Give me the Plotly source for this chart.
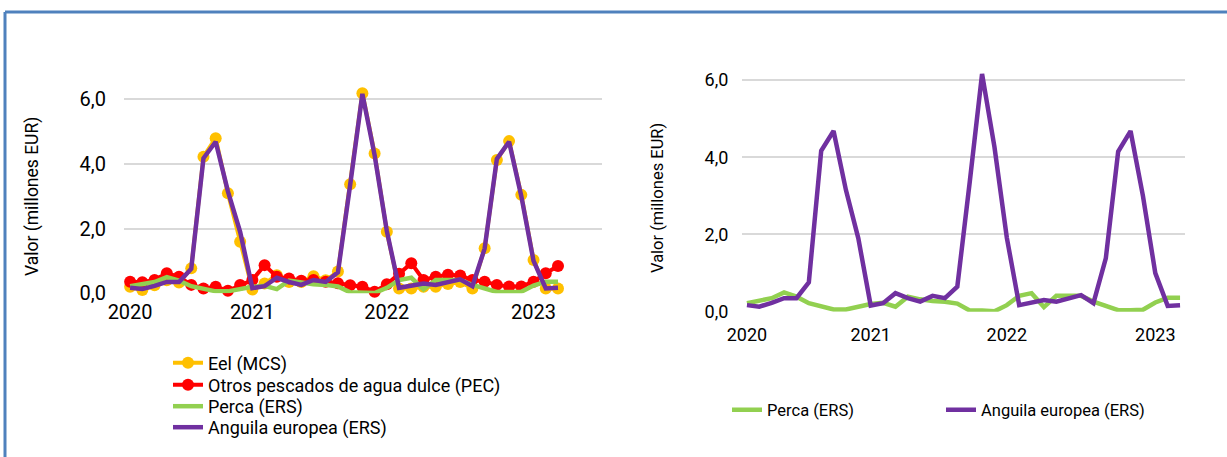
import plotly.graph_objects as go

# Monthly categories, Jan 2020 - Dec 2022
months = [f"{y}-{m:02d}" for y in (2020, 2021, 2022) for m in range(1, 13)]

eel_mcs = [0.20, 0.10, 0.25, 0.40, 0.33, 0.77, 4.22, 4.79, 3.09, 1.59, 0.12, 0.30,
           0.56, 0.35, 0.35, 0.53, 0.40, 0.67, 3.37, 6.18, 4.32, 1.90, 0.15, 0.15,
           0.20, 0.20, 0.29, 0.35, 0.15, 1.39, 4.12, 4.70, 3.04, 1.03, 0.15, 0.15]
otros_pec = [0.36, 0.34, 0.41, 0.62, 0.51, 0.26, 0.15, 0.20, 0.08, 0.26, 0.41, 0.87,
             0.51, 0.46, 0.39, 0.41, 0.36, 0.31, 0.25, 0.20, 0.05, 0.28, 0.60, 0.93,
             0.41, 0.51, 0.57, 0.55, 0.41, 0.36, 0.26, 0.21, 0.21, 0.36, 0.62, 0.84]
perca_ers = [0.22, 0.28, 0.35, 0.50, 0.39, 0.22, 0.13, 0.06, 0.06, 0.13, 0.20, 0.23,
             0.13, 0.39, 0.32, 0.28, 0.26, 0.21, 0.03, 0.03, 0.01, 0.17, 0.41, 0.48,
             0.12, 0.41, 0.41, 0.41, 0.26, 0.14, 0.04, 0.04, 0.05, 0.24, 0.36, 0.36]
anguila_ers = [0.17, 0.13, 0.23, 0.35, 0.35, 0.76, 4.17, 4.68, 3.15, 1.90, 0.16, 0.22,
               0.48, 0.35, 0.26, 0.41, 0.35, 0.65, 3.35, 6.16, 4.27, 1.92, 0.17, 0.23,
               0.30, 0.26, 0.35, 0.43, 0.22, 1.38, 4.15, 4.68, 3.00, 1.00, 0.15, 0.17]

tick_months = ["2020-01", "2020-11", "2021-10", "2022-10"]
tick_labels = ["2020", "2021", "2022", "2023"]
y_ticks = [0, 2, 4, 6]
y_labels = ["0,0", "2,0", "4,0", "6,0"]

C_YEL, C_RED, C_GRN, C_PUR = "#FFC000", "#FF0000", "#92D050", "#7030A0"
FONT = "Roboto"
W, H = 1227, 457

fig = go.Figure()
# Left chart (each legend entry in its own legend box for tight row spacing)
fig.add_trace(go.Scatter(x=months, y=eel_mcs, name="Eel (MCS)", mode="lines+markers",
                         line=dict(color=C_YEL, width=4), marker=dict(size=12, color=C_YEL),
                         xaxis="x", yaxis="y", legend="legend", cliponaxis=False))
fig.add_trace(go.Scatter(x=months, y=otros_pec, name="Otros pescados de agua dulce (PEC)",
                         mode="lines+markers", line=dict(color=C_RED, width=4),
                         marker=dict(size=12, color=C_RED),
                         xaxis="x", yaxis="y", legend="legend3", cliponaxis=False))
fig.add_trace(go.Scatter(x=months, y=perca_ers, name="Perca (ERS)", mode="lines",
                         line=dict(color=C_GRN, width=4.5),
                         xaxis="x", yaxis="y", legend="legend4", cliponaxis=False))
fig.add_trace(go.Scatter(x=months, y=anguila_ers, name="Anguila europea (ERS)", mode="lines",
                         line=dict(color=C_PUR, width=4.5),
                         xaxis="x", yaxis="y", legend="legend5", cliponaxis=False))
# Right chart
fig.add_trace(go.Scatter(x=months, y=perca_ers, name="Perca (ERS)", mode="lines",
                         line=dict(color=C_GRN, width=4.5),
                         xaxis="x2", yaxis="y2", legend="legend2", cliponaxis=False))
fig.add_trace(go.Scatter(x=months, y=anguila_ers, name="Anguila europea (ERS)", mode="lines",
                         line=dict(color=C_PUR, width=4.5),
                         xaxis="x2", yaxis="y2", legend="legend2", cliponaxis=False))

def px_x(a, b):
    return [a / W, b / W]

def px_y(top, bottom):
    return [1 - bottom / H, 1 - top / H]

grid = dict(showgrid=True, gridcolor="#D9D9D9", gridwidth=1.5, zeroline=False,
            showline=False)

def left_legend(center_px):
    return dict(x=168 / W, y=1 - center_px / H, xanchor="left", yanchor="middle",
                orientation="v", bgcolor="rgba(0,0,0,0)", borderwidth=0,
                font=dict(size=18, family=FONT), itemwidth=30)

fig.update_layout(
    width=W, height=H, margin=dict(l=0, r=0, t=0, b=0, autoexpand=False),
    paper_bgcolor="white", plot_bgcolor="white",
    font=dict(family=FONT, color="#000000"),
    xaxis=dict(domain=px_x(124, 602), type="category", range=[-0.5, 38.6],
               tickvals=tick_months, ticktext=tick_labels, showgrid=False,
               zeroline=False, showline=False, ticks="outside", ticklen=1,
               tickcolor="rgba(0,0,0,0)", tickfont=dict(size=20, family=FONT), anchor="y"),
    yaxis=dict(domain=px_y(79.6, 293.3), range=[0, 6.6], tickvals=y_ticks,
               ticktext=y_labels, ticks="outside", ticklen=13, tickcolor="rgba(0,0,0,0)",
               tickfont=dict(size=20, family=FONT), anchor="x", **grid),
    xaxis2=dict(domain=px_x(742, 1185), type="category", range=[-0.4, 35.4],
                tickvals=tick_months, ticktext=tick_labels, showgrid=False,
                zeroline=False, showline=False, ticks="outside", ticklen=7,
                tickcolor="rgba(0,0,0,0)", tickfont=dict(size=18, family=FONT), anchor="y2"),
    yaxis2=dict(domain=px_y(68.5, 311.7), range=[0, 6.3], tickvals=y_ticks,
                ticktext=y_labels, ticks="outside", ticklen=9, tickcolor="rgba(0,0,0,0)",
                tickfont=dict(size=18, family=FONT), anchor="x2", **grid),
    legend=left_legend(363),
    legend3=left_legend(385),
    legend4=left_legend(406.5),
    legend5=left_legend(427.5),
    legend2=dict(x=727 / W, y=1 - 410 / H, xanchor="left", yanchor="middle",
                 orientation="h", bgcolor="rgba(0,0,0,0)", font=dict(size=16.5, family=FONT),
                 entrywidth=169, entrywidthmode="pixels", itemwidth=30),
    showlegend=True,
    hovermode=False,
    annotations=[
        dict(text="Valor (millones EUR)", textangle=-90, x=33 / W, y=1 - 197 / H,
             xanchor="center", yanchor="middle",
             xref="paper", yref="paper", showarrow=False, font=dict(size=17.5, family=FONT)),
        dict(text="Valor (millones EUR)", textangle=-90, x=657 / W, y=1 - 198 / H,
             xanchor="center", yanchor="middle",
             xref="paper", yref="paper", showarrow=False, font=dict(size=16.5, family=FONT)),
    ],
    shapes=[
        dict(type="line", xref="paper", yref="paper", x0=5 / W, x1=1, y0=1 - 12 / H,
             y1=1 - 12 / H, line=dict(color="#4F81BD", width=3)),
        dict(type="line", xref="paper", yref="paper", x0=5 / W, x1=5 / W, y0=0,
             y1=1 - 12 / H, line=dict(color="#4F81BD", width=3)),
    ],
)

fig.write_html("out.html", config={"displayModeBar": False},
               post_script="document.body.style.margin='0';document.body.style.overflow='hidden';")
